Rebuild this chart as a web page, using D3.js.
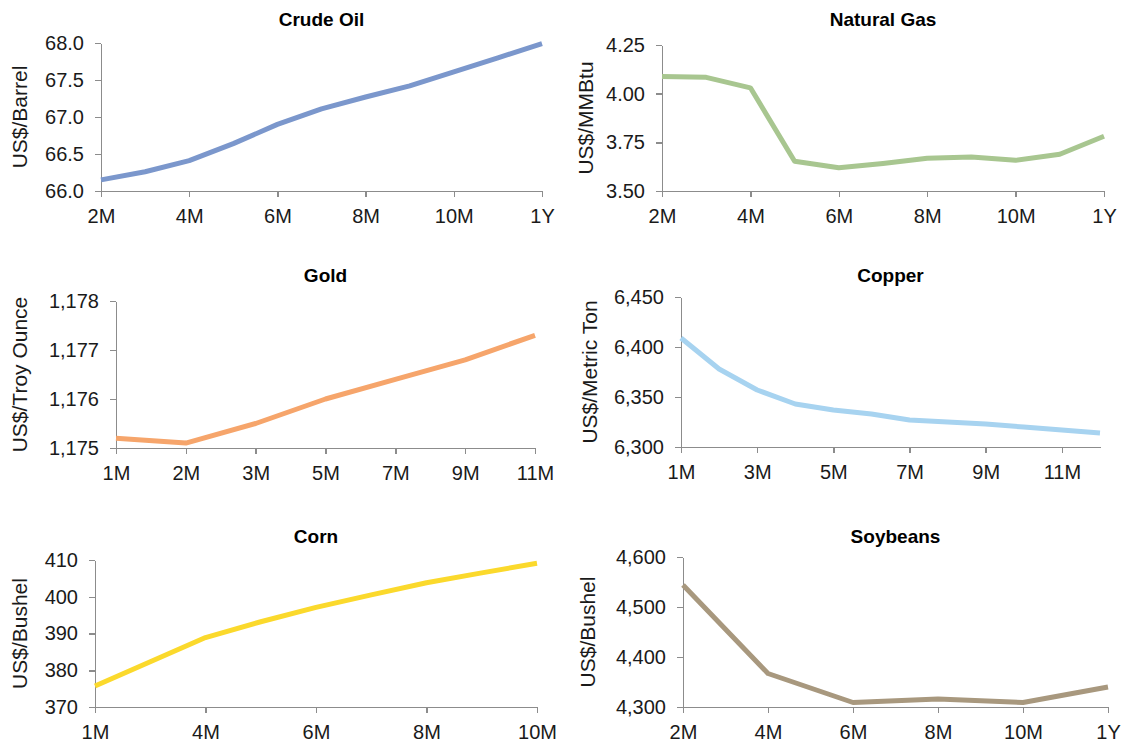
<!DOCTYPE html>
<html>
<head>
<meta charset="utf-8">
<script src="https://cdn.jsdelivr.net/npm/d3@7"></script>
<style>
  html, body { margin: 0; padding: 0; background: #fff; }
  svg { display: block; font-family: "Liberation Sans", Arial, sans-serif; }
  .axis path, .axis line { stroke: #8c8c8c; stroke-width: 1.5; shape-rendering: crispEdges; }
  .axis text { font-size: 20px; fill: #1a1a1a; }
  .title { font-size: 19px; font-weight: bold; fill: #000; }
  .ytitle { font-size: 21px; fill: #1a1a1a; }
  .trace { fill: none; stroke-width: 5; stroke-linejoin: round; }
</style>
</head>
<body>
<svg id="chart" width="1134" height="742"></svg>
<script>
// Forward curves, six commodities (2x3 grid of small line charts)
var crudeCats = ['2M', '3M', '4M', '5M', '6M', '7M', '8M', '9M', '10M', '11M', '1Y'];
var crudeVals = [66.15, 66.26, 66.41, 66.64, 66.90, 67.11, 67.27, 67.42, 67.61, 67.80, 67.99];
var crudeTicks = [66.0, 66.5, 67.0, 67.5, 68.0];

var gasCats = ['2M', '3M', '4M', '5M', '6M', '7M', '8M', '9M', '10M', '11M', '1Y'];
var gasVals = [4.088, 4.084, 4.03, 3.653, 3.619, 3.641, 3.668, 3.675, 3.658, 3.689, 3.781];
var gasTicks = [3.50, 3.75, 4.00, 4.25];

var goldCats = ['1M', '2M', '3M', '5M', '7M', '9M', '11M'];
var goldVals = [1175.2, 1175.1, 1175.5, 1176.0, 1176.4, 1176.8, 1177.3];
var goldTicks = [1175, 1176, 1177, 1178];

var copperCats = ['1M', '2M', '3M', '4M', '5M', '6M', '7M', '8M', '9M', '10M', '11M', '12M'];
var copperVals = [6409, 6378, 6357, 6343, 6337, 6333, 6327, 6325, 6323, 6320, 6317, 6314];
var copperTicks = [6300, 6350, 6400, 6450];

var cornCats = ['1M', '3M', '4M', '5M', '6M', '7M', '8M', '9M', '10M'];
var cornVals = [375.7, 382.3, 388.9, 393.2, 397.1, 400.5, 403.8, 406.5, 409.1];
var cornTicks = [370, 380, 390, 400, 410];

var soyCats = ['2M', '4M', '6M', '8M', '10M', '1Y'];
var soyVals = [4544, 4367, 4309, 4316, 4309, 4340];
var soyTicks = [4300, 4400, 4500, 4600];

(function () {
    var svg = d3.select('#chart');

    function everyOther(cats) {
        return cats.filter(function (d, i) { return i % 2 === 0; });
    }

    var panels = [
        { title: 'Crude Oil', unit: 'US$/Barrel', cats: crudeCats, vals: crudeVals, ticks: crudeTicks,
          xTicks: everyOther(crudeCats), fmt: d3.format('.1f'), color: '#7b97cc',
          box: { l: 101, r: 542, t: 43, b: 191 }, titleY: 26, unitX: 20 },
        { title: 'Natural Gas', unit: 'US$/MMBtu', cats: gasCats, vals: gasVals, ticks: gasTicks,
          xTicks: everyOther(gasCats), fmt: d3.format('.2f'), color: '#a8c690',
          box: { l: 662, r: 1104, t: 45, b: 191 }, titleY: 26, unitX: 586 },
        { title: 'Gold', unit: 'US$/Troy Ounce', cats: goldCats, vals: goldVals, ticks: goldTicks,
          xTicks: goldCats, fmt: d3.format(','), color: '#f6a56b',
          box: { l: 116, r: 535, t: 301, b: 448 }, titleY: 282, unitX: 20 },
        { title: 'Copper', unit: 'US$/Metric Ton', cats: copperCats, vals: copperVals, ticks: copperTicks,
          xTicks: everyOther(copperCats), fmt: d3.format(','), color: '#a7d3f0',
          box: { l: 681, r: 1100, t: 297, b: 447 }, titleY: 282, unitX: 590 },
        { title: 'Corn', unit: 'US$/Bushel', cats: cornCats, vals: cornVals, ticks: cornTicks,
          xTicks: everyOther(cornCats), fmt: d3.format('d'), color: '#fbd92c',
          box: { l: 95, r: 537, t: 560, b: 707 }, titleY: 543, unitX: 20 },
        { title: 'Soybeans', unit: 'US$/Bushel', cats: soyCats, vals: soyVals, ticks: soyTicks,
          xTicks: soyCats, fmt: d3.format(','), color: '#a8987e',
          box: { l: 683, r: 1108, t: 557, b: 707 }, titleY: 543, unitX: 588 }
    ];

    panels.forEach(function (p) {
        var b = p.box;
        var g = svg.append('g');

        var x = d3.scalePoint().domain(p.cats).range([b.l, b.r]).padding(0);
        var y = d3.scaleLinear()
            .domain([p.ticks[0], p.ticks[p.ticks.length - 1]])
            .range([b.b, b.t]);

        g.append('g').attr('class', 'axis')
            .attr('transform', 'translate(' + b.l + ',0)')
            .call(d3.axisLeft(y).tickValues(p.ticks).tickFormat(p.fmt)
                .tickSize(6).tickSizeOuter(0).tickPadding(11));

        g.append('g').attr('class', 'axis')
            .attr('transform', 'translate(0,' + b.b + ')')
            .call(d3.axisBottom(x).tickValues(p.xTicks)
                .tickSize(6).tickSizeOuter(0).tickPadding(12));

        g.selectAll('.axis text').attr('fill', '#1a1a1a');

        var line = d3.line()
            .x(function (d, i) { return x(p.cats[i]); })
            .y(function (d) { return y(d); });
        g.append('path').datum(p.vals)
            .attr('class', 'trace')
            .attr('stroke', p.color)
            .attr('d', line);

        g.append('text').attr('class', 'title')
            .attr('x', (b.l + b.r) / 2).attr('y', p.titleY)
            .attr('text-anchor', 'middle')
            .text(p.title);

        g.append('text').attr('class', 'ytitle')
            .attr('transform', 'translate(' + (p.unitX + 7) + ',' + ((b.t + b.b) / 2) + ') rotate(-90)')
            .attr('text-anchor', 'middle')
            .text(p.unit);
    });
})();
</script>
</body>
</html>
